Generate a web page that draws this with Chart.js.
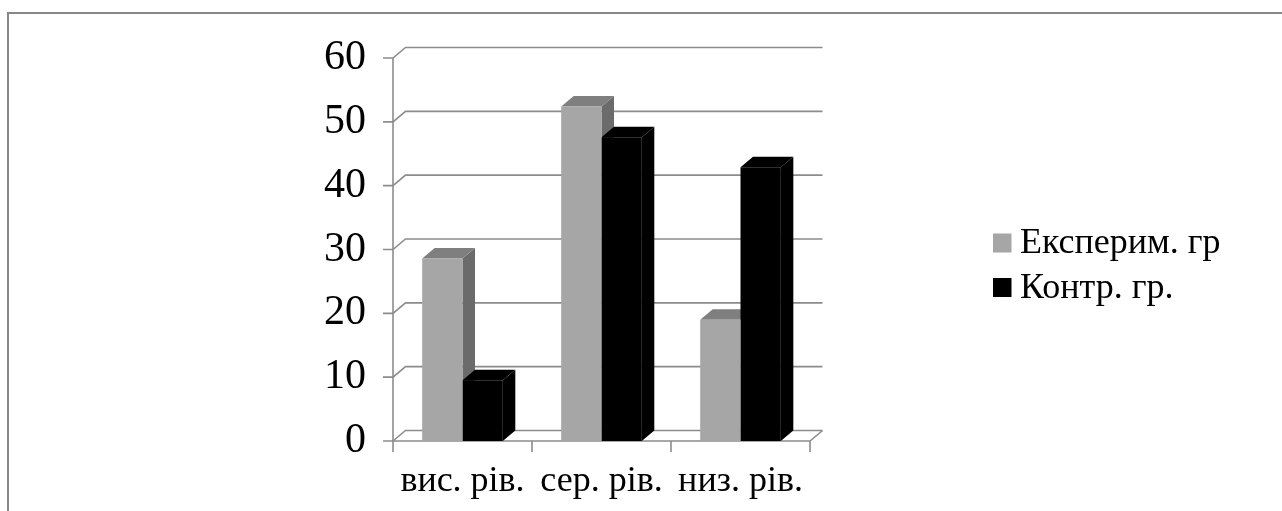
<!DOCTYPE html>
<html>
<head>
<meta charset="utf-8">
<title>Рівні</title>
<style>
  html, body { margin: 0; padding: 0; background: #fff; overflow: hidden; }
  #wrap { position: relative; width: 1282px; height: 511px; overflow: hidden; }
  #frame { position: absolute; left: 7px; top: 12px; width: 1400px; height: 600px;
           border-top: 2px solid #888; border-left: 2px solid #888; }
  canvas { position: absolute; left: 0; top: 0; }
</style>
<script src="https://cdn.jsdelivr.net/npm/chart.js@4.4.0/dist/chart.umd.min.js"></script>
</head>
<body>
<div id="wrap"><div id="frame"></div><canvas id="c" width="1282" height="511"></canvas></div>
<script>
// Categories and series values (percent of each group)
const categories = ['вис. рів.', 'сер. рів.', 'низ. рів.'];
const seriesNames = ['Експерим. гр', 'Контр. гр.'];
const experimental = [28.6, 52.4, 19.0];
const control = [9.5, 47.6, 42.9];
const yTicks = [0, 10, 20, 30, 40, 50, 60];

// Face shades for each series: front, top, side
const shades = [
  { front: '#a6a6a6', top: '#7f7f7f', side: '#6b6b6b' },
  { front: '#000000', top: '#000000', side: '#000000' }
];

const FAMILY = "'Liberation Serif','Times New Roman',serif";
const TEXT_FONT = { family: FAMILY, size: 36 };
const VALUE_FONT = { family: FAMILY, size: 42 };
const DX = 12.5, DY = -10.5;   // depth offset of the back wall and bar bodies
const LINE = '#8c8c8c';

// Draws the back wall, floor, axis marks and the depth faces of the columns
const depthPlugin = {
  id: 'depth3d',
  beforeDatasetsDraw(chart) {
    const ctx = chart.ctx, xs = chart.scales.x, ys = chart.scales.y;
    const left = xs.left, right = xs.right;
    const p0 = ys.getPixelForValue(0);
    ctx.save();
    ctx.strokeStyle = LINE;
    ctx.lineWidth = 1.6;
    ys.ticks.forEach(t => {
      const py = ys.getPixelForValue(t.value);
      ctx.beginPath();
      ctx.moveTo(left - 10, py);
      ctx.lineTo(left, py);
      ctx.lineTo(left + DX, py + DY);
      ctx.lineTo(right + DX, py + DY);
      ctx.stroke();
    });
    // floor front edge and right side
    ctx.beginPath();
    ctx.moveTo(right + DX, p0 + DY);
    ctx.lineTo(right, p0);
    ctx.lineTo(left, p0);
    ctx.stroke();
    // front vertical axis
    ctx.beginPath();
    ctx.moveTo(left, ys.getPixelForValue(ys.max));
    ctx.lineTo(left, p0 + 11);
    ctx.stroke();
    // category boundary ticks
    const n = categories.length;
    const step = (right - left) / n;
    for (let i = 1; i <= n; i++) {
      const px = left + step * i;
      ctx.beginPath();
      ctx.moveTo(px, p0);
      ctx.lineTo(px, p0 + 11);
      ctx.stroke();
    }
    // depth faces of every column
    chart.data.datasets.forEach((ds, di) => {
      const meta = chart.getDatasetMeta(di);
      const sh = shades[di];
      meta.data.forEach(el => {
        const { x, y, base, width } = el.getProps(['x', 'y', 'base', 'width'], true);
        const l = x - width / 2, r = x + width / 2;
        ctx.fillStyle = sh.side;
        ctx.beginPath();
        ctx.moveTo(r, y);
        ctx.lineTo(r + DX, y + DY);
        ctx.lineTo(r + DX, base + DY);
        ctx.lineTo(r, base);
        ctx.closePath();
        ctx.fill();
        ctx.fillStyle = sh.top;
        ctx.beginPath();
        ctx.moveTo(l, y);
        ctx.lineTo(l + DX, y + DY);
        ctx.lineTo(r + DX, y + DY);
        ctx.lineTo(r, y);
        ctx.closePath();
        ctx.fill();
      });
    });
    ctx.restore();
  },
  afterDraw(chart) {
    // legend to the right of the plot
    const ctx = chart.ctx;
    ctx.save();
    ctx.font = `${TEXT_FONT.size}px ${TEXT_FONT.family}`;
    ctx.textBaseline = 'middle';
    ctx.textAlign = 'left';
    chart.data.datasets.forEach((ds, i) => {
      const cy = 243 + i * 44.5;
      ctx.fillStyle = ds.backgroundColor;
      ctx.fillRect(993, cy - 9.5, 18.5, 19);
      ctx.fillStyle = '#000';
      ctx.fillText(ds.label, 1020, cy + 1);
    });
    ctx.restore();
  }
};

new Chart(document.getElementById('c'), {
  type: 'bar',
  data: {
    labels: categories,
    datasets: [
      { label: seriesNames[0], data: experimental, backgroundColor: shades[0].front, borderWidth: 0 },
      { label: seriesNames[1], data: control, backgroundColor: shades[1].front, borderWidth: 0 }
    ]
  },
  options: {
    responsive: false,
    animation: false,
    devicePixelRatio: 1,
    layout: { padding: { left: 0, top: 58, right: 472, bottom: 0 } },
    datasets: { bar: { categoryPercentage: 0.58, barPercentage: 1.0 } },
    plugins: { legend: { display: false }, tooltip: { enabled: false } },
    scales: {
      x: {
        type: 'category',
        offset: true,
        grid: { display: false, drawTicks: false },
        border: { display: false },
        ticks: { font: TEXT_FONT, color: '#000', padding: 19, maxRotation: 0, autoSkip: false },
        afterFit(s) { s.height = 70; }
      },
      y: {
        min: 0,
        max: 60,
        grid: { display: false, drawTicks: false },
        border: { display: false },
        ticks: { font: VALUE_FONT, color: '#000', padding: 27 },
        afterBuildTicks(s) { s.ticks = yTicks.map(v => ({ value: v })); },
        afterFit(s) { s.width = 393; }
      }
    }
  },
  plugins: [depthPlugin]
});
</script>
</body>
</html>
